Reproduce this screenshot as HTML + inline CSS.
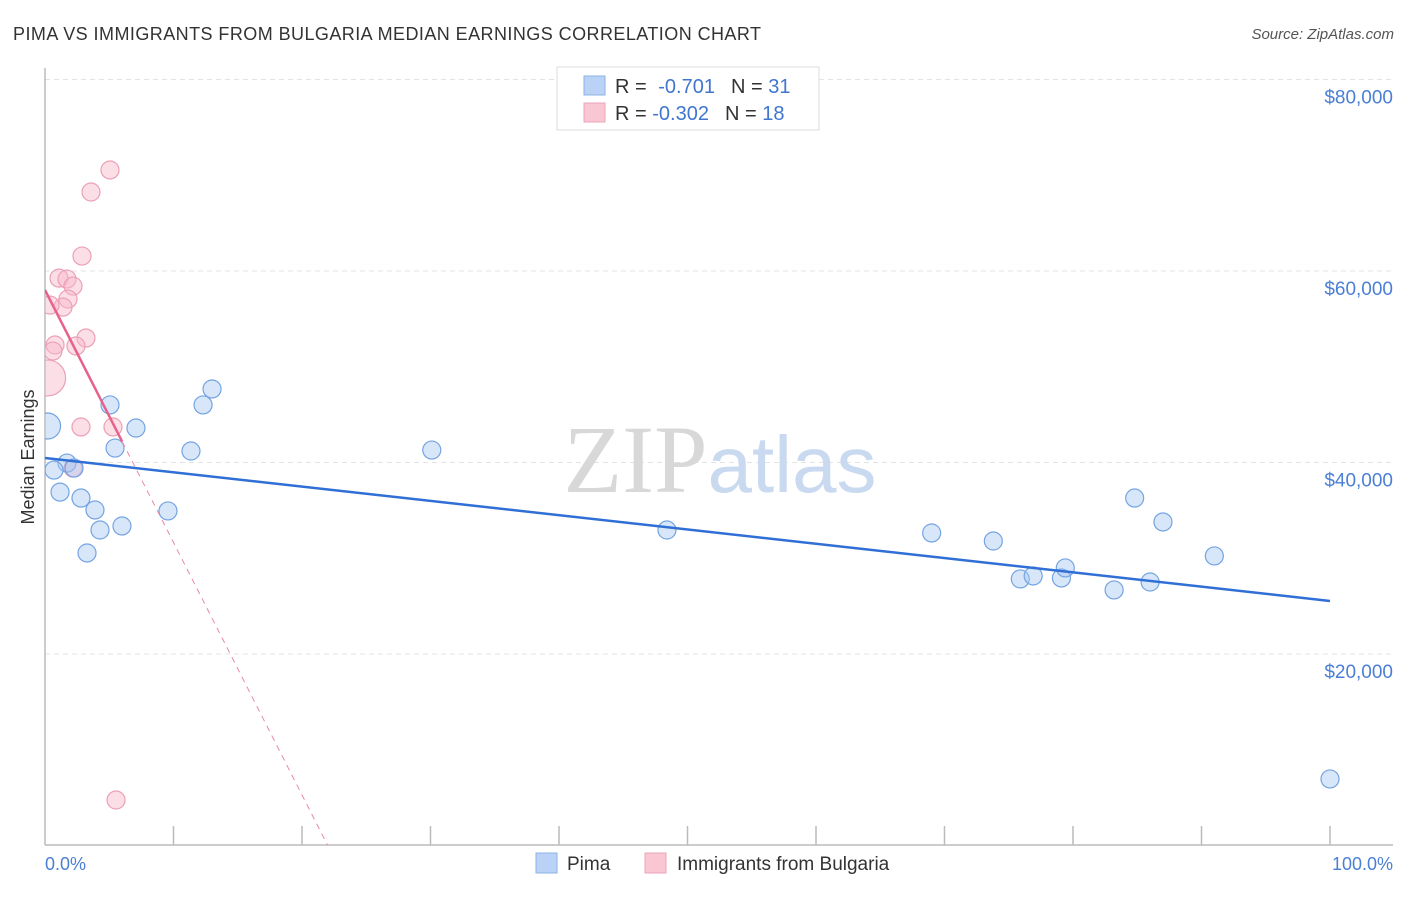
<!DOCTYPE html>
<html><head><meta charset="utf-8"><style>
body{margin:0;background:#fff;font-family:"Liberation Sans",sans-serif;}
svg text{font-family:"Liberation Sans",sans-serif;}
</style></head><body>
<svg id="chart" width="1406" height="892" viewBox="0 0 1406 892" xmlns="http://www.w3.org/2000/svg">
<text x="13" y="40" font-size="18" fill="#333" textLength="748">PIMA VS IMMIGRANTS FROM BULGARIA MEDIAN EARNINGS CORRELATION CHART</text>
<text x="1394" y="39" font-size="15" fill="#555" text-anchor="end" font-style="italic">Source: ZipAtlas.com</text>
<text transform="translate(34,457) rotate(-90)" font-size="18" fill="#333" text-anchor="middle">Median Earnings</text>
<g id="grid"></g>
<text x="720" y="492" font-size="96" text-anchor="middle"><tspan fill="#d8d8d8" font-family="Liberation Serif">ZIP</tspan><tspan fill="#c9d9f0" font-size="80">atlas</tspan></text>
<line x1="45" y1="68" x2="45" y2="845" stroke="#bbb" stroke-width="1.5"/>
<line x1="45" y1="845" x2="1393" y2="845" stroke="#bbb" stroke-width="1.5"/>
<g id="ticks"></g>
<g id="marks"></g>
<text x="45" y="870" font-size="18" fill="#4a7fd4">0.0%</text>
<text x="1393" y="870" font-size="18" fill="#4a7fd4" text-anchor="end">100.0%</text>
<g>
<rect x="557" y="67" width="262" height="63" fill="#fff" stroke="#ddd"/>
<rect x="584" y="76" width="21" height="19" fill="#b9d2f5" stroke="#8fb3e6"/>
<rect x="584" y="103" width="21" height="19" fill="#f9c6d4" stroke="#eca4b9"/>
<text x="615" y="93" font-size="20" fill="#333">R = <tspan fill="#3f76cf" dx="6">-0.701</tspan><tspan fill="#333" dx="16">N = </tspan><tspan fill="#3f76cf">31</tspan></text>
<text x="615" y="120" font-size="20" fill="#333">R = <tspan fill="#3f76cf">-0.302</tspan><tspan fill="#333" dx="16">N = </tspan><tspan fill="#3f76cf">18</tspan></text>
</g>
<g>
<rect x="536" y="853" width="21" height="20" fill="#b9d2f5" stroke="#8fb3e6"/>
<text x="567" y="870" font-size="19" fill="#333">Pima</text>
<rect x="645" y="853" width="21" height="20" fill="#f9c6d4" stroke="#eca4b9"/>
<text x="677" y="870" font-size="19" fill="#333">Immigrants from Bulgaria</text>
</g>
</svg>
<script>
const yTicks=[20000,40000,60000,80000];
const yTickLabels=["$20,000","$40,000","$60,000","$80,000"];
const pimaX=[5.06,13.0,12.3,0.2,7.08,5.45,11.36,1.71,0.7,2.26,1.17,2.8,3.89,9.57,4.28,5.99,3.27,30.1,48.4,69.0,73.8,84.8,87.0,91.0,75.9,76.9,79.1,79.4,83.2,86.0,100];
const pimaY=[46010,47680,46010,43810,43600,41510,41200,39940,39210,39420,36910,36290,35040,34940,32950,33370,30550,41300,32950,32640,31800,36290,33790,30240,27840,28150,27940,28990,26690,27520,6950];
const bulX=[5.06,3.58,2.88,1.09,1.71,2.18,1.79,1.4,0.39,0.78,0.62,3.19,2.41,0.2,2.8,5.29,2.18,5.53];
const bulY=[70550,68250,61560,59260,59160,58430,57070,56230,56440,52270,51640,53000,52170,48830,43710,43710,39420,4750];
const pimaTrend=[40470,25540];
const bulTrend=[58020,-2637];
const NS="http://www.w3.org/2000/svg";
const sx=p=>45+p*12.85;
const sy=v=>845.5-v/104.44;
function mk(t,a,parent){const e=document.createElementNS(NS,t);for(const k in a)e.setAttribute(k,a[k]);parent.appendChild(e);return e;}
const grid=document.getElementById('grid');
yTicks.forEach((v,i)=>{
  const l=mk('line',{x1:45,x2:1393,y1:sy(v),y2:sy(v),stroke:'#e3e3e3','stroke-dasharray':'5,4'},grid);
  
  
  const t=mk('text',{x:1393,y:sy(v)+24,'font-size':19,fill:'#4a7fd4','text-anchor':'end'},grid);
  t.textContent=yTickLabels[i];
  
  
});
const ticks=document.getElementById('ticks');
for(let i=1;i<=10;i++){
  const l=mk('line',{x1:sx(i*10),x2:sx(i*10),y1:826,y2:845,stroke:'#bbb','stroke-width':1.5},ticks);
  
  
}
const marks=document.getElementById('marks');
const clip=mk('clipPath',{id:'pc'},marks);mk('rect',{x:45,y:60,width:1360,height:785},clip);
const g=mk('g',{'clip-path':'url(#pc)'},marks);
bulX.forEach((x,i)=>{
  const r=(i===13)?18:9;
  const c=mk('circle',{cx:sx(x),cy:sy(bulY[i]),r:r,fill:'rgba(248,182,202,0.45)',stroke:'#eba0b6','stroke-width':1.2},g);
  
  
});
pimaX.forEach((x,i)=>{
  const r=(i===3)?13:9;
  const c=mk('circle',{cx:sx(x),cy:sy(pimaY[i]),r:r,fill:'rgba(168,200,242,0.45)',stroke:'#74a4e2','stroke-width':1.2},g);
  
  
});
const pl=mk('line',{x1:sx(0),y1:sy(pimaTrend[0]),x2:sx(100),y2:sy(pimaTrend[1]),stroke:'#2f6fd6','stroke-width':2.5},g);


const xe=-bulTrend[0]/bulTrend[1];
const bd=mk('line',{x1:sx(6),y1:sy(bulTrend[0]+bulTrend[1]*6),x2:sx(xe),y2:sy(0),stroke:'#e88aa6','stroke-width':1,'stroke-dasharray':'6,5'},g);


const bl=mk('line',{x1:sx(0),y1:sy(bulTrend[0]),x2:sx(6),y2:sy(bulTrend[0]+bulTrend[1]*6),stroke:'#e6628a','stroke-width':2.5},g);


</script>
</body></html>
